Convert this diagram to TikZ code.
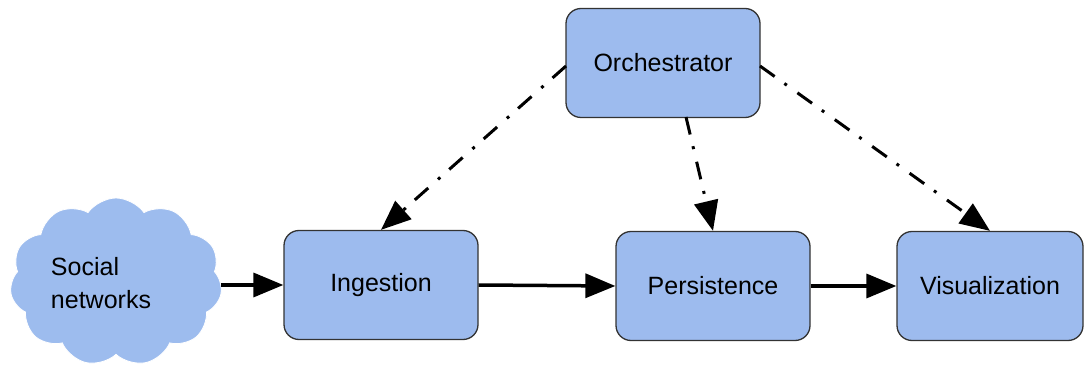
\documentclass[tikz,border=0pt]{standalone}
\usepackage{fontspec}
\setmainfont{Liberation Sans}
\usetikzlibrary{shapes.symbols,arrows.meta}
\definecolor{boxfill}{HTML}{9DBBEE}
\definecolor{cloudfill}{HTML}{9DBCEE}
\definecolor{boxline}{HTML}{333333}
\tikzset{
  stage/.style={draw=boxline, line width=1.3pt, fill=boxfill, rounded corners=15pt,
    minimum width=194pt, minimum height=109pt, font=\fontsize{25}{29}\selectfont, inner sep=0pt},
  flow/.style={line width=3.5pt, -{Triangle[length=30pt,width=24pt]}},
  ctrl/.style={line width=3pt, dash pattern=on 18pt off 12pt on 3pt off 13pt,
    -{Triangle[length=30pt,width=24pt]}},
}
\begin{document}
\begin{tikzpicture}[x=1pt,y=-1pt]
\useasboundingbox (0,0) rectangle (1084,371);
% cloud source
\node[cloud, cloud puffs=11, cloud puff arc=110, aspect=1.25, fill=cloudfill, draw=white,
  line width=0.8pt, minimum width=212pt, minimum height=168pt, inner sep=0pt] (cloud) at (116,282) {};
\node[align=left, font=\fontsize{25}{33}\selectfont, inner sep=0pt] (socialtxt) at (101,283) {Social\\networks};
% processing stages
\node[stage] (orch) at (663,63) {Orchestrator};
\node[stage] (ingest) at (381,285) {Ingestion};
\node[stage] (persist) at (713,286) {Persistence};
\node[stage, minimum width=186pt] (vis) at (990,286) {Visualization};
% data flow
\draw[flow] (cloud.east |- ingest.west) -- (ingest.west);
\draw[flow] (ingest.east) -- (persist.west);
\draw[flow] (persist.east) -- (vis.west);
% orchestration links
\coordinate (oi) at (566,66);
\coordinate (ov) at (760,66);
\coordinate (op) at (686,117);
\draw[ctrl] (oi) -- (ingest.north);
\draw[ctrl] (op) -- (persist.north);
\draw[ctrl] (ov) -- (vis.north);
\end{tikzpicture}
\end{document}
